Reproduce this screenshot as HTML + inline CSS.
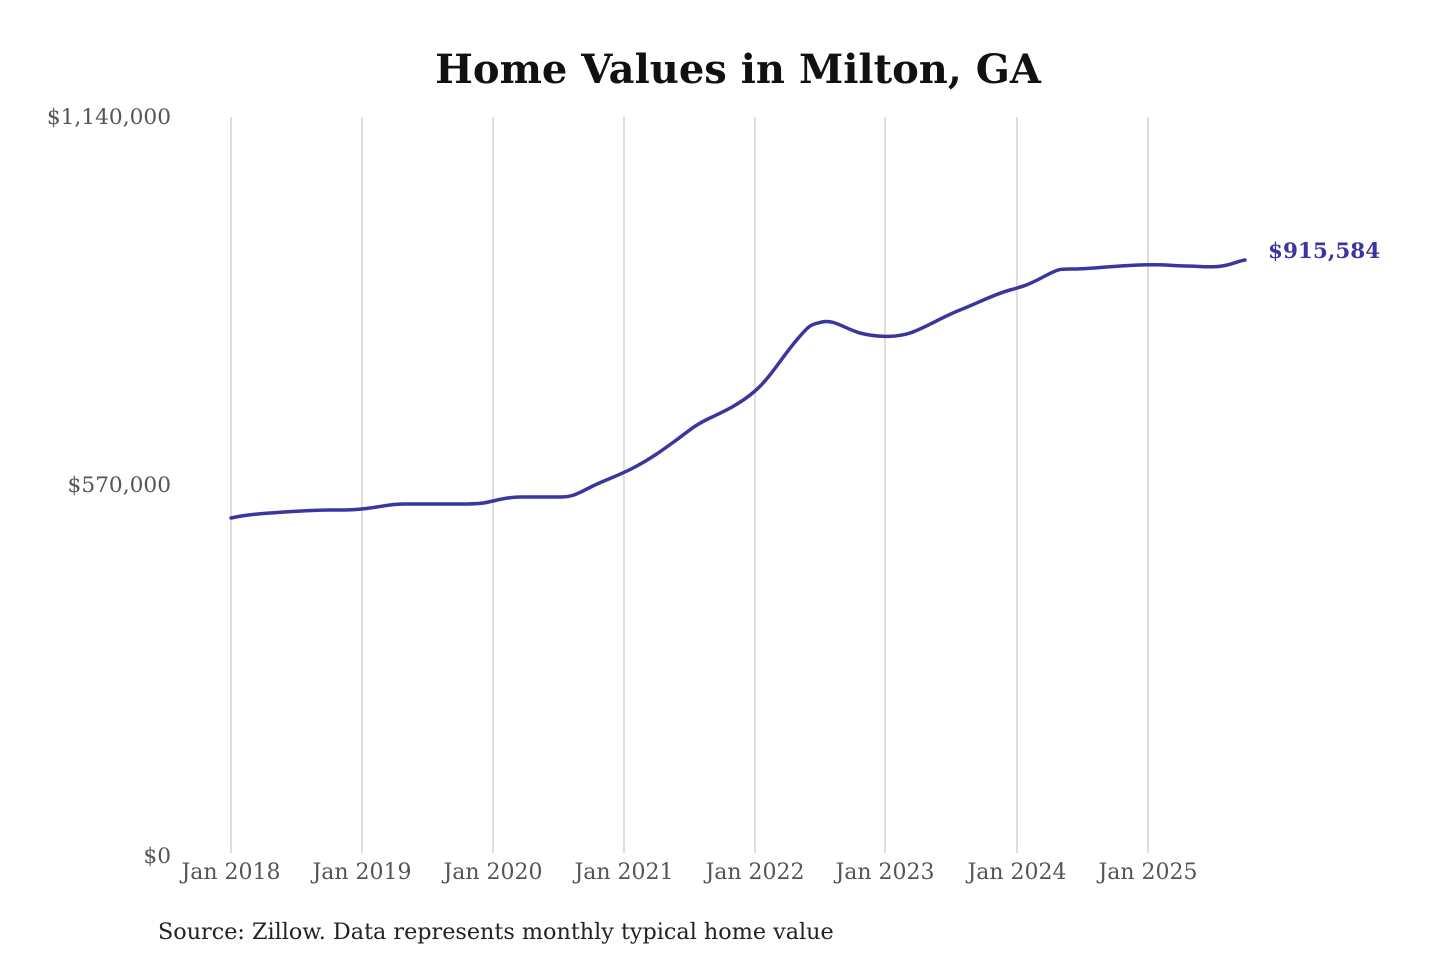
<!DOCTYPE html>
<html><head><meta charset="utf-8"><style>
html,body{margin:0;padding:0;background:#fff;}
svg{display:block;font-family:"DejaVu Serif","Liberation Serif",serif;}
</style></head><body>
<svg width="1440" height="960" viewBox="0 0 1440 960">
<text x="738" y="83" text-anchor="middle" font-size="40" font-weight="bold" fill="#111">Home Values in Milton, GA</text>
<g stroke="#c8c8c8" stroke-width="1.2">
<line x1="231" y1="117" x2="231" y2="853"/>
<line x1="362" y1="117" x2="362" y2="853"/>
<line x1="493" y1="117" x2="493" y2="853"/>
<line x1="624" y1="117" x2="624" y2="853"/>
<line x1="755" y1="117" x2="755" y2="853"/>
<line x1="885" y1="117" x2="885" y2="853"/>
<line x1="1017" y1="117" x2="1017" y2="853"/>
<line x1="1148" y1="117" x2="1148" y2="853"/>
</g>
<g font-size="21.7" fill="#555" text-anchor="end">
<text x="171" y="124">$1,140,000</text>
<text x="171" y="492">$570,000</text>
<text x="171" y="863">$0</text>
</g>
<g font-size="22" fill="#555" text-anchor="middle">
<text x="231" y="879">Jan 2018</text>
<text x="362" y="879">Jan 2019</text>
<text x="493" y="879">Jan 2020</text>
<text x="624" y="879">Jan 2021</text>
<text x="755" y="879">Jan 2022</text>
<text x="885" y="879">Jan 2023</text>
<text x="1017" y="879">Jan 2024</text>
<text x="1148" y="879">Jan 2025</text>
</g>
<path fill="none" stroke="#3b35a0" stroke-width="3.5" stroke-linejoin="round" stroke-linecap="round"
d="M231,518 C245,515 255,514 270,513 S310,510 330,510 S355,510 370,508 S390,504 405,504 S440,504 460,504 S485,503 493,501 S510,497 520,497 S545,497 560,497 S580,492 595,485 S620,475 635,467 S660,452 675,441 S695,425 710,418 S740,404 755,391 S780,360 795,342 S810,325 822,322 S845,329 860,333 S895,338 910,333 S940,318 960,310 S995,294 1010,290 S1030,284 1045,276 S1060,269 1075,269 S1110,266 1140,265 S1170,266 1185,266 S1210,268 1222,266 S1238,261 1245,260"/>
<text x="1268" y="258" font-size="21.5" font-weight="bold" fill="#3b35a0">$915,584</text>
<text x="158" y="939" font-size="22.3" fill="#222">Source: Zillow. Data represents monthly typical home value</text>
</svg>
</body></html>
